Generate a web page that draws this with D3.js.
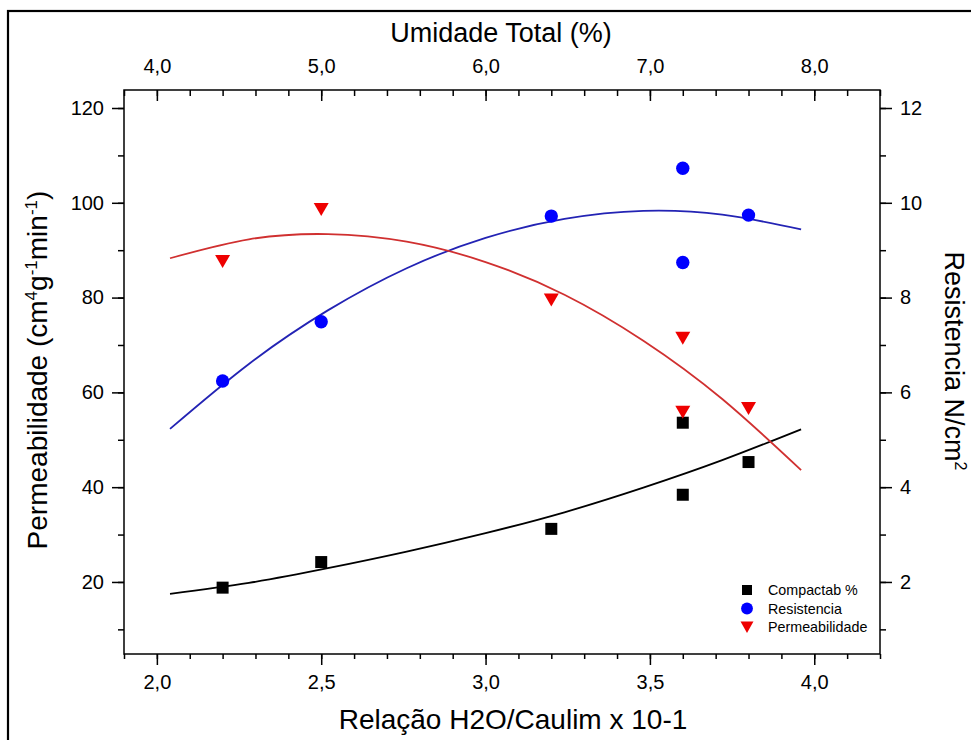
<html><head>
<script src="https://cdnjs.cloudflare.com/ajax/libs/d3/7.8.5/d3.min.js"></script>
<style>
  body { margin: 0; background: #fff; }
  text { font-family: Arial, "Liberation Sans", sans-serif; fill: #000; }
</style>
</head>
<body>
<div id="chart"></div>
<script>
    // measured points
    const razao = [2.2, 2.5, 3.2, 3.6, 3.6, 3.8];
    const compactab = [18.8, 24.2, 31.2, 53.6, 38.4, 45.3];
    const resistencia = [6.24, 7.49, 9.72, 10.73, 8.74, 9.74];
    const permeabilidade = [87.6, 98.6, 79.5, 71.4, 55.8, 56.6];

    // fit curves
    const fitX = [2.04, 2.28, 2.52, 2.76, 3.0, 3.24, 3.48, 3.72, 3.96];
    const fitCompactab = [17.5, 19.8, 22.9, 26.4, 30.3, 34.7, 39.9, 45.7, 52.2];
    const fitResistencia = [5.23, 6.6, 7.73, 8.62, 9.26, 9.66, 9.83, 9.75, 9.44];
    const fitPermeabilidade = [88.3, 92.3, 93.4, 91.8, 87.5, 80.6, 70.9, 58.6, 43.6];

    const bottomTicks = [2.0, 2.5, 3.0, 3.5, 4.0];
    const topTicks = [4.0, 5.0, 6.0, 7.0, 8.0];
    const leftTicks = [20, 40, 60, 80, 100, 120];
    const rightTicks = [2, 4, 6, 8, 10, 12];
    const legendNames = ["Compactab %", "Resistencia", "Permeabilidade"];

    const svgWidth = 971, svgHeight = 740;
    const mLeft = 124, mRight = 880, mTop = 90, mBottom = 654;
    const fontSize = 20;

    const svg = d3.select("#chart").append("svg")
        .attr("width", svgWidth).attr("height", svgHeight);

    // outer frame of the figure
    svg.append("rect")
        .attr("x", 8).attr("y", 11).attr("width", 1000).attr("height", 1000)
        .attr("fill", "none").attr("stroke", "#000").attr("stroke-width", 2.2);

    const x = d3.scaleLinear().domain([1.9, 4.2]).range([mLeft, mRight]);
    const xTop = d3.scaleLinear().domain([3.8, 8.4]).range([mLeft, mRight]);
    const yL = d3.scaleLinear().domain([4.8, 123.8]).range([mBottom, mTop]);
    const yR = d3.scaleLinear().domain([0.48, 12.38]).range([mBottom, mTop]);

    const comma = d => d3.format(".1f")(d).replace(".", ",");

    function minor(scale, step) {
        const [a, b] = scale.domain();
        const out = [];
        for (let v = Math.ceil(a / step - 1e-6); v * step <= b + 1e-9; v++) out.push(+(v * step).toFixed(3));
        return out;
    }

    function styleAxis(g) {
        g.select(".domain").remove();
        g.selectAll("line").attr("stroke", "#000").attr("stroke-width", 1.5);
        g.selectAll("text").style("font-size", fontSize + "px");
    }

    // minor ticks
    svg.append("g").attr("transform", "translate(0," + mBottom + ")")
        .call(d3.axisBottom(x).tickValues(minor(x, 0.1)).tickSize(5).tickFormat("")).call(styleAxis);
    svg.append("g").attr("transform", "translate(0," + mTop + ")")
        .call(d3.axisTop(xTop).tickValues(minor(xTop, 0.2)).tickSizeInner(-6).tickSizeOuter(0).tickFormat("")).call(styleAxis);
    svg.append("g").attr("transform", "translate(" + mLeft + ",0)")
        .call(d3.axisLeft(yL).tickValues(minor(yL, 10)).tickSize(6).tickFormat("")).call(styleAxis);
    svg.append("g").attr("transform", "translate(" + mRight + ",0)")
        .call(d3.axisRight(yR).tickValues(minor(yR, 1)).tickSize(6).tickFormat("")).call(styleAxis);

    // major ticks
    svg.append("g").attr("transform", "translate(0," + mBottom + ")")
        .call(d3.axisBottom(x).tickValues(bottomTicks).tickSize(11).tickPadding(10).tickFormat(comma)).call(styleAxis);
    svg.append("g").attr("transform", "translate(0," + mTop + ")")
        .call(d3.axisTop(xTop).tickValues(topTicks).tickSizeInner(-11).tickSizeOuter(0).tickPadding(17).tickFormat(comma)).call(styleAxis);
    svg.append("g").attr("transform", "translate(" + mLeft + ",0)")
        .call(d3.axisLeft(yL).tickValues(leftTicks).tickSize(12).tickPadding(8)).call(styleAxis);
    svg.append("g").attr("transform", "translate(" + mRight + ",0)")
        .call(d3.axisRight(yR).tickValues(rightTicks).tickSize(12).tickPadding(8)).call(styleAxis);

    // plot frame
    svg.append("rect")
        .attr("x", mLeft).attr("y", mTop).attr("width", mRight - mLeft).attr("height", mBottom - mTop)
        .attr("fill", "none").attr("stroke", "#000").attr("stroke-width", 1.5);

    // fit lines
    const fits = [
        {vals: fitCompactab, y: yL, color: "#000"},
        {vals: fitResistencia, y: yR, color: "#2323b4"},
        {vals: fitPermeabilidade, y: yL, color: "#d03030"}
    ];
    fits.forEach(f => {
        svg.append("path")
            .datum(fitX.map((d, i) => [d, f.vals[i]]))
            .attr("fill", "none").attr("stroke", f.color).attr("stroke-width", 1.8)
            .attr("d", d3.line().x(d => x(d[0])).y(d => f.y(d[1])).curve(d3.curveNatural));
    });

    // markers
    const sq = d3.symbol().type(d3.symbolSquare).size(144);
    const circ = d3.symbol().type(d3.symbolCircle).size(140);
    const tri = d => "M-7.5,-6.5L7.5,-6.5L0,6.5Z";

    svg.append("g").selectAll("path").data(razao).join("path")
        .attr("transform", (d, i) => "translate(" + x(d) + "," + yL(compactab[i]) + ")")
        .attr("d", sq).attr("fill", "#000");
    svg.append("g").selectAll("path").data(razao).join("path")
        .attr("transform", (d, i) => "translate(" + x(d) + "," + yR(resistencia[i]) + ")")
        .attr("d", circ).attr("fill", "#0000ff");
    svg.append("g").selectAll("path").data(razao).join("path")
        .attr("transform", (d, i) => "translate(" + x(d) + "," + yL(permeabilidade[i]) + ")")
        .attr("d", tri).attr("fill", "#ee0000");

    // legend
    const legendMarks = [
        {d: d3.symbol().type(d3.symbolSquare).size(100)(), color: "#000"},
        {d: d3.symbol().type(d3.symbolCircle).size(110)(), color: "#0000ff"},
        {d: "M-6.5,-5.5L6.5,-5.5L0,6Z", color: "#ee0000"}
    ];
    const legend = svg.append("g").attr("transform", "translate(747,590)");
    legendNames.forEach((name, i) => {
        legend.append("path").attr("transform", "translate(0," + (i * 18.5) + ")")
            .attr("d", legendMarks[i].d).attr("fill", legendMarks[i].color);
        legend.append("text").attr("x", 21).attr("y", i * 18.5 + 5)
            .style("font-size", "14.3px").text(name);
    });

    // axis titles
    svg.append("text")
        .attr("x", 501).attr("y", 42)
        .attr("text-anchor", "middle").style("font-size", "27px")
        .text("Umidade Total (%)");

    svg.append("text")
        .attr("x", 513).attr("y", 729)
        .attr("text-anchor", "middle").style("font-size", "28px")
        .text("Relação H2O/Caulim x 10-1");

    const yt = svg.append("text")
        .attr("transform", "translate(47,370) rotate(-90)")
        .attr("text-anchor", "middle").style("font-size", "28px");
    yt.append("tspan").text("Permeabilidade (cm");
    yt.append("tspan").attr("dy", -10).style("font-size", "17px").text("4");
    yt.append("tspan").attr("dy", 10).text("g");
    yt.append("tspan").attr("dy", -10).style("font-size", "17px").text("-1");
    yt.append("tspan").attr("dy", 10).text("min");
    yt.append("tspan").attr("dy", -10).style("font-size", "17px").text("-1");
    yt.append("tspan").attr("dy", 10).text(")");

    const rt = svg.append("text")
        .attr("transform", "translate(945,361) rotate(90)")
        .attr("text-anchor", "middle").style("font-size", "27px");
    rt.append("tspan").text("Resistencia N/cm");
    rt.append("tspan").attr("dy", -10).style("font-size", "16px").text("2");
</script>
</body></html>
